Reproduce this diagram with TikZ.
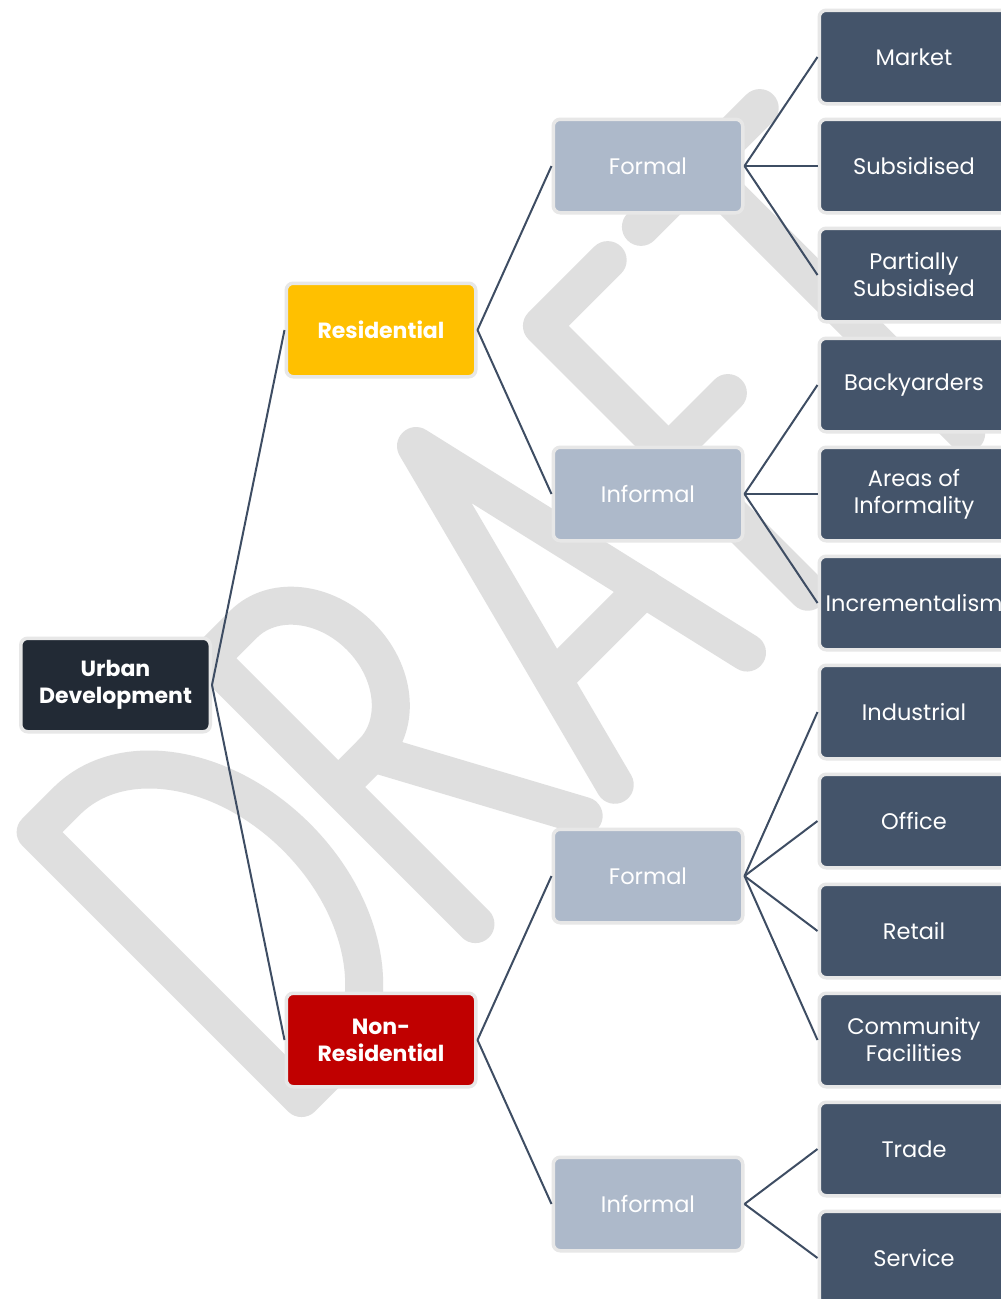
\documentclass[tikz,border=0pt]{standalone}
\usepackage{fontspec}
\setmainfont{Poppins}
\definecolor{wm}{HTML}{DFDFDF}
\definecolor{halo}{HTML}{E7E7E7}
\definecolor{rootc}{HTML}{222A35}
\definecolor{resc}{HTML}{FFC000}
\definecolor{nonc}{HTML}{C00000}
\definecolor{midc}{HTML}{ADB9CA}
\definecolor{leafc}{HTML}{44546A}
\definecolor{linkc}{HTML}{3E4D63}
\tikzset{
  box/.style={rectangle, rounded corners=7pt, draw=halo, line width=3.5pt,
    minimum width=189.5pt, minimum height=93.5pt, inner sep=0pt, align=center, text=white},
  boldlabel/.style={font=\fontsize{22}{27}\selectfont\bfseries},
  plainlabel/.style={font=\fontsize{22.5}{27}\selectfont},
  rootbox/.style={box, boldlabel, fill=rootc},
  resbox/.style={box, boldlabel, fill=resc},
  nonbox/.style={box, boldlabel, fill=nonc},
  midbox/.style={box, plainlabel, fill=midc},
  leafbox/.style={box, plainlabel, fill=leafc},
  link/.style={draw=linkc, line width=2pt},
  wmstroke/.style={draw=wm, line width=38pt, line cap=round, line join=round}
}
\begin{document}
\begin{tikzpicture}[x=1pt, y=-1pt]
\useasboundingbox (0,0) rectangle (1001,1299);
\clip (0,0) rectangle (1001,1299);
\fill[white] (0,0) rectangle (1001,1299);
% watermark DRAFT
\begin{scope}[shift={(310,1115)}, rotate=45, yscale=-1]
  % D
  \draw[wmstroke] (6,18) -- (6,394) -- (50,394)
     arc[start angle=90, end angle=-90, x radius=137, y radius=188] -- cycle;
  % R
  \draw[wmstroke] (252,18) -- (252,394) -- (300,394)
     arc[start angle=90, end angle=-90, x radius=74, y radius=91] -- (252,212);
  \draw[wmstroke] (300,212) -- (405,18);
  % A
  \draw[wmstroke] (449,18) -- (548,398) -- (636,18);
  \draw[wmstroke] (480,136) -- (609,136);
  % F
  \draw[wmstroke] (722,18) -- (722,394) -- (815,394);
  \draw[wmstroke] (722,215) -- (806,215);
  % T
  \draw[wmstroke] (862,394) -- (1030,394);
  \draw[wmstroke] (946,394) -- (946,18);
\end{scope}
% nodes
\node[rootbox] (root) at (115.5,685) {Urban\\Development};
\node[resbox] (res) at (381,330) {Residential};
\node[nonbox] (non) at (381,1040) {Non-\\Residential};
\node[midbox] (rf) at (648,166) {Formal};
\node[midbox] (ri) at (648,494) {Informal};
\node[midbox] (nf) at (648,876) {Formal};
\node[midbox] (ni) at (648,1204) {Informal};
\node[leafbox] (l1) at (914,57) {Market};
\node[leafbox] (l2) at (914,166) {Subsidised};
\node[leafbox] (l3) at (914,275) {Partially\\Subsidised};
\node[leafbox] (l4) at (914,385) {Backyarders};
\node[leafbox] (l5) at (914,494) {Areas of\\Informality};
\node[leafbox] (l6) at (914,603) {Incrementalism};
\node[leafbox] (l7) at (914,712) {Industrial};
\node[leafbox] (l8) at (914,821) {Office};
\node[leafbox] (l9) at (914,931) {Retail};
\node[leafbox] (l10) at (914,1040) {Community\\Facilities};
\node[leafbox] (l11) at (914,1149) {Trade};
\node[leafbox] (l12) at (914,1258) {Service};
% connectors
\draw[link] (root.east) -- (res.west);
\draw[link] (root.east) -- (non.west);
\draw[link] (res.east) -- (rf.west);
\draw[link] (res.east) -- (ri.west);
\draw[link] (non.east) -- (nf.west);
\draw[link] (non.east) -- (ni.west);
\draw[link] (rf.east) -- (l1.west);
\draw[link] (rf.east) -- (l2.west);
\draw[link] (rf.east) -- (l3.west);
\draw[link] (ri.east) -- (l4.west);
\draw[link] (ri.east) -- (l5.west);
\draw[link] (ri.east) -- (l6.west);
\draw[link] (nf.east) -- (l7.west);
\draw[link] (nf.east) -- (l8.west);
\draw[link] (nf.east) -- (l9.west);
\draw[link] (nf.east) -- (l10.west);
\draw[link] (ni.east) -- (l11.west);
\draw[link] (ni.east) -- (l12.west);
\end{tikzpicture}
\end{document}
